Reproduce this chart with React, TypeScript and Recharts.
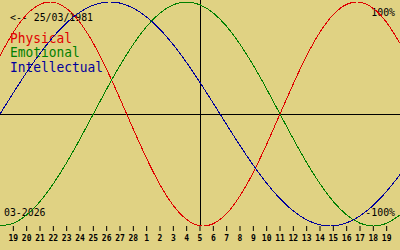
import React from "react";
import { LineChart, Line, XAxis, YAxis, ReferenceLine } from "recharts";

// Day-of-month labels, from 18 Feb to 20 Mar 2026 (index -1 .. 29)
const dates = [18, 19, 20, 21, 22, 23, 24, 25, 26, 27, 28, 1, 2, 3, 4, 5, 6, 7, 8, 9, 10, 11, 12, 13, 14, 15, 16, 17, 18, 19, 20];

const physical = [
  0.52, 0.731, 0.888, 0.979, 0.998, 0.942, 0.817, 0.631, 0.398, 0.136, -0.136,
  -0.398, -0.631, -0.817, -0.942, -0.998, -0.979, -0.888, -0.731, -0.52, -0.27,
  0, 0.27, 0.52, 0.731, 0.888, 0.979, 0.998, 0.942, 0.817, 0.631,
];

const emotional = [
  -1, -0.975, -0.901, -0.782, -0.623, -0.434, -0.223, 0, 0.223, 0.434, 0.623,
  0.782, 0.901, 0.975, 1, 0.975, 0.901, 0.782, 0.623, 0.434, 0.223,
  0, -0.223, -0.434, -0.623, -0.782, -0.901, -0.975, -1, -0.975, -0.901,
];

const intellectual = [
  0, 0.189, 0.372, 0.541, 0.69, 0.815, 0.91, 0.972, 0.999, 0.99, 0.945,
  0.866, 0.756, 0.618, 0.458, 0.282, 0.095, -0.095, -0.282, -0.458, -0.618,
  -0.756, -0.866, -0.945, -0.99, -0.999, -0.972, -0.91, -0.815, -0.69, -0.541,
];

const tickIdx = dates.slice(1, 30).map((_, i) => i);

const data = dates.map((d, i) => ({
  x: i - 1,
  day: d,
  physical: physical[i],
  emotional: emotional[i],
  intellectual: intellectual[i],
}));

const RED = "#e00000";
const GREEN = "#008000";
const BLUE = "#00009c";
const BG = "#e0d283";
const MONO = "'DejaVu Sans Mono', monospace";

export default function App() {
  return (
    <div style={{ position: "absolute", left: 0, top: 0, width: 400, height: 250, background: BG }}>
      <svg width={400} height={250} style={{ position: "absolute", left: 0, top: 0 }}>
        <g fontFamily={MONO}>
          <g transform="translate(10,0) scale(0.94,1)">
            <text x={0} y={21} fontSize={10.5} fill="#000">{"<-- 25/03/1981"}</text>
          </g>
          <g transform="translate(10,0) scale(0.92,1)">
            <text x={0} y={43} fontSize={14} fill={RED}>Physical</text>
            <text x={0} y={57.5} fontSize={14} fill={GREEN}>Emotional</text>
            <text x={0} y={72} fontSize={14} fill={BLUE}>Intellectual</text>
          </g>
          <g transform="translate(395,0) scale(0.94,1)">
            <text x={0} y={16} fontSize={10.5} fill="#000" textAnchor="end">100%</text>
            <text x={0} y={216} fontSize={10.5} fill="#000" textAnchor="end">-100%</text>
          </g>
          <g transform="translate(4,0) scale(0.94,1)">
            <text x={0} y={216} fontSize={10.5} fill="#000">03-2026</text>
          </g>
        </g>
      </svg>
      <div style={{ position: "absolute", left: 0, top: 0 }}>
        <LineChart width={400} height={250} data={data} margin={{ top: 2, right: 0, bottom: 0, left: 0 }}>
          <XAxis
            dataKey="x"
            type="number"
            domain={[-1, 29]}
            ticks={tickIdx}
            interval={0}
            axisLine={false}
            stroke="#000"
            tickSize={5}
            tickMargin={4}
            height={24}
            tickFormatter={(v: number) => String(dates[v + 1])}
            tick={{ fill: "#000", fontSize: 8, fontWeight: "bold", fontFamily: MONO }}
            allowDataOverflow
          />
          <YAxis hide domain={[-1, 1]} type="number" allowDataOverflow />
          <ReferenceLine y={0} stroke="#000" shapeRendering="crispEdges" />
          <ReferenceLine
            segment={[{ x: 14, y: -1 }, { x: 14, y: 1.02 }]}
            stroke="#000"
            ifOverflow="visible"
            shapeRendering="crispEdges"
          />
          <Line type="natural" dataKey="physical" stroke={RED} strokeWidth={1} dot={false} isAnimationActive={false} shapeRendering="crispEdges" />
          <Line type="natural" dataKey="emotional" stroke={GREEN} strokeWidth={1} dot={false} isAnimationActive={false} shapeRendering="crispEdges" />
          <Line type="natural" dataKey="intellectual" stroke={BLUE} strokeWidth={1} dot={false} isAnimationActive={false} shapeRendering="crispEdges" />
        </LineChart>
      </div>
    </div>
  );
}
